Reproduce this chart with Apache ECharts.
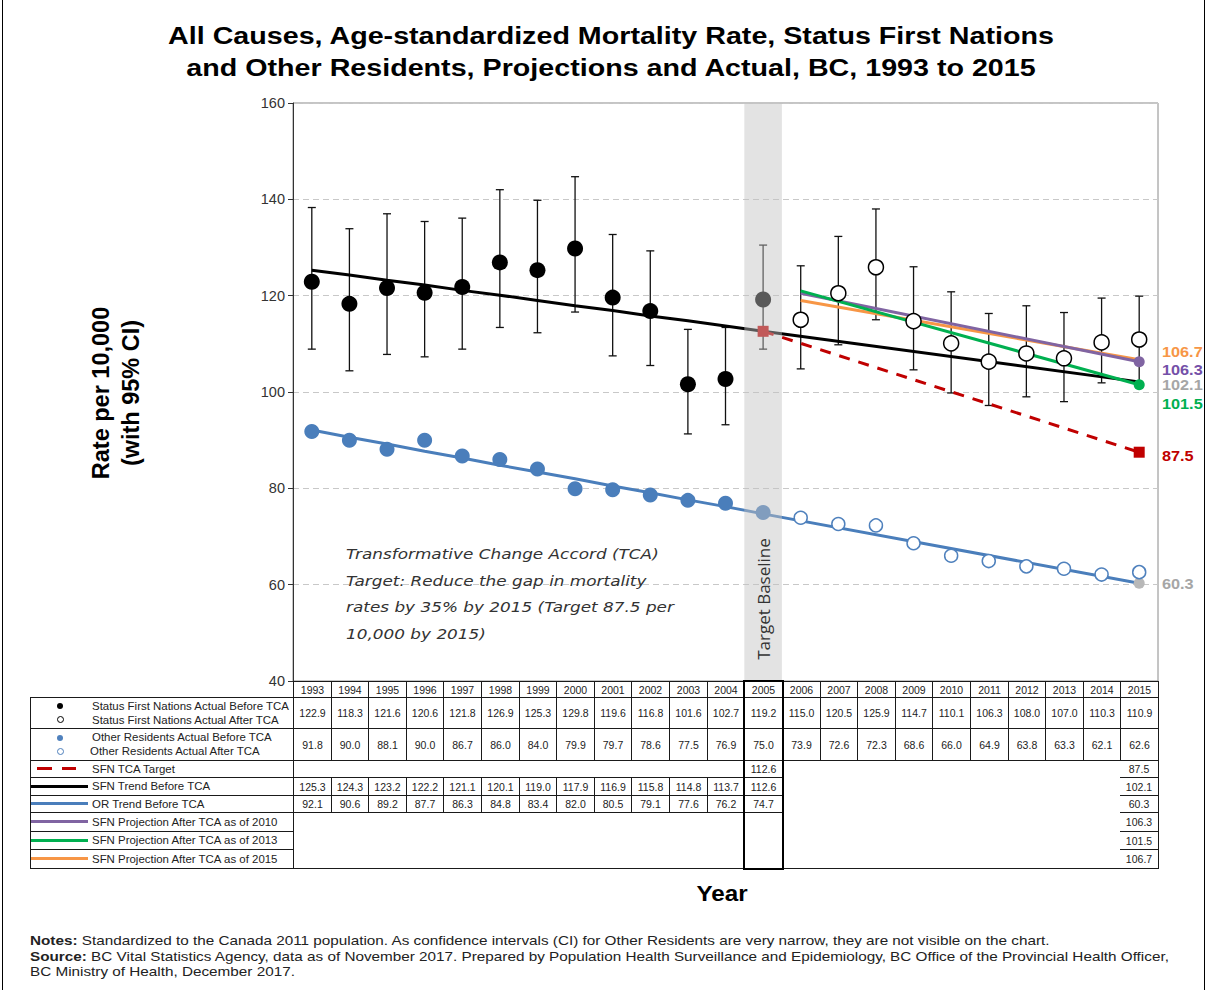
<!DOCTYPE html>
<html>
<head>
<meta charset="utf-8">
<script src="https://cdn.jsdelivr.net/npm/echarts@6/dist/echarts.min.js"></script>
<style>
html,body{margin:0;padding:0;background:#fff;}
#wrap{position:relative;width:1207px;height:990px;overflow:hidden;font-family:"Liberation Sans",Arial,sans-serif;}
#chart{position:absolute;left:0;top:0;width:1207px;height:990px;}
#overlay{position:absolute;left:0;top:0;width:1207px;height:990px;pointer-events:none;}
.bx{position:absolute;box-sizing:border-box;}
.txt{position:absolute;white-space:nowrap;font-size:11px;color:#222;line-height:12px;transform:scaleX(1.04);transform-origin:0 50%;}
.note{position:absolute;left:30px;white-space:nowrap;font-size:13px;color:#222;line-height:15px;transform:scaleX(1.175);transform-origin:0 50%;}
</style>
</head>
<body>
<div id="wrap">
  <div id="chart"></div>
  <div id="overlay"></div>
</div>
<script>
// ---------------- DATA ----------------
const years = ['1993','1994','1995','1996','1997','1998','1999','2000','2001','2002','2003','2004','2005','2006','2007','2008','2009','2010','2011','2012','2013','2014','2015'];
const sfnActual = [122.9,118.3,121.6,120.6,121.8,126.9,125.3,129.8,119.6,116.8,101.6,102.7,119.2,115.0,120.5,125.9,114.7,110.1,106.3,108.0,107.0,110.3,110.9];
const sfnCiLow  = [108.9,104.4,107.8,107.3,108.9,113.4,112.3,116.6,107.5,105.5,91.3,93.2,108.9,104.8,109.8,115.0,104.6,99.8,97.2,99.0,98.0,101.9,101.8];
const sfnCiHigh = [138.3,133.9,137.0,135.4,136.1,142.0,139.8,144.7,132.7,129.3,113.0,113.4,130.5,126.2,132.3,138.0,126.0,120.8,116.3,117.9,116.5,119.5,119.9];
const orActual  = [91.8,90.0,88.1,90.0,86.7,86.0,84.0,79.9,79.7,78.6,77.5,76.9,75.0,73.9,72.6,72.3,68.6,66.0,64.9,63.8,63.3,62.1,62.6];
const sfnTrend  = [125.3,124.3,123.2,122.2,121.1,120.1,119.0,117.9,116.9,115.8,114.8,113.7,112.6]; // 1993-2005
const orTrend   = [92.1,90.6,89.2,87.7,86.3,84.8,83.4,82.0,80.5,79.1,77.6,76.2,74.7];           // 1993-2005
const sfnTrend2015 = 102.1;
const orTrend2015 = 60.3;
const tcaTarget = [112.6, 87.5];   // 2005, 2015
const proj2010 = [120.5, 106.3];   // 2006, 2015
const proj2013 = [121.0, 101.5];
const proj2015 = [119.0, 106.7];
const yTicks = [40, 60, 80, 100, 120, 140, 160];
const baselineYear = '2005';
const firstAfterYear = '2006';
const lastYear = '2015';

// ---------------- SETUP ----------------
const FONT = '"Liberation Sans", Arial, sans-serif';
const N = years.length;
const iBase = years.indexOf(baselineYear);
const iAfter = years.indexOf(firstAfterYear);
const iLast = years.indexOf(lastYear);
const GRID = {left: 293, top: 103, width: 865, height: 578};

function pairs(arr, cond) {
  const out = [];
  arr.forEach((v, i) => { if (v != null && cond(i)) out.push([i, v]); });
  return out;
}
function endpointLine(startIdx, startVal, endVal, endSymbol, size, startSymbol) {
  return years.map((y, i) => {
    if (i === startIdx) return {value: startVal, symbol: startSymbol || 'none', symbolSize: size};
    if (i === iLast) return {value: endVal, symbol: endSymbol, symbolSize: size};
    return null;
  });
}
function trendLine(trend, endVal, endSymbol) {
  return years.map((y, i) => {
    if (i < trend.length) return {value: trend[i], symbol: 'none'};
    if (i === iLast) return {value: endVal, symbol: endSymbol, symbolSize: 11};
    return null;
  });
}

const chart = echarts.init(document.getElementById('chart'), null, {renderer: 'svg'});

const option = {
  animation: false,
  backgroundColor: '#ffffff',
  grid: {left: GRID.left, top: GRID.top, width: GRID.width, height: GRID.height, show: true, borderColor: '#8a8a8a', borderWidth: 1, containLabel: false},
  xAxis: {
    type: 'category', data: years, boundaryGap: true,
    axisLabel: {show: false}, axisTick: {show: false},
    axisLine: {show: true, lineStyle: {color: '#808080'}},
    splitLine: {show: false}
  },
  yAxis: {
    type: 'value', min: yTicks[0], max: yTicks[yTicks.length - 1], interval: yTicks[1] - yTicks[0],
    axisLine: {show: true, lineStyle: {color: '#333', width: 1}},
    axisTick: {show: true, length: 5, lineStyle: {color: '#333'}},
    axisLabel: {fontFamily: FONT, fontSize: 14.5, color: '#333', margin: 8},
    splitLine: {show: true, lineStyle: {color: '#c8c8c8', type: [6, 4], width: 1}}
  },
  series: [
    // error bars (SFN 95% CI)
    {
      type: 'custom', z: 2, silent: true,
      data: years.map((y, i) => [i, sfnCiLow[i], sfnCiHigh[i]]),
      encode: {x: 0, y: [1, 2]},
      renderItem: function (params, api) {
        const x = api.value(0);
        const lo = api.coord([x, api.value(1)]);
        const hi = api.coord([x, api.value(2)]);
        const cw = 4;
        const st = {stroke: '#111', lineWidth: 1.3};
        return {type: 'group', children: [
          {type: 'line', shape: {x1: lo[0], y1: lo[1], x2: hi[0], y2: hi[1]}, style: st},
          {type: 'line', shape: {x1: lo[0] - cw, y1: lo[1], x2: lo[0] + cw, y2: lo[1]}, style: st},
          {type: 'line', shape: {x1: hi[0] - cw, y1: hi[1], x2: hi[0] + cw, y2: hi[1]}, style: st}
        ]};
      }
    },
    // SFN trend before TCA (extended to 2015)
    {type: 'line', z: 3, data: trendLine(sfnTrend, sfnTrend2015, 'none'), connectNulls: true, showAllSymbol: true,
     lineStyle: {color: '#000', width: 3}, itemStyle: {color: '#000'}},
    // OR trend before TCA (extended to 2015)
    {type: 'line', z: 3, data: trendLine(orTrend, orTrend2015, 'circle'), connectNulls: true, showAllSymbol: true,
     lineStyle: {color: '#4a7ebb', width: 3}, itemStyle: {color: '#b8b8b8'}},
    // SFN TCA target
    {type: 'line', z: 3, data: endpointLine(iBase, tcaTarget[0], tcaTarget[1], 'rect', 11, 'rect'), connectNulls: true, showAllSymbol: true,
     lineStyle: {color: '#c00000', width: 3, type: [11, 9]}, itemStyle: {color: '#c00000'}},
    // SFN projection after TCA as of 2015 (orange)
    {type: 'line', z: 3, data: endpointLine(iAfter, proj2015[0], proj2015[1], 'none', 10), connectNulls: true, showAllSymbol: true,
     lineStyle: {color: '#f79646', width: 3}, itemStyle: {color: '#f79646'}},
    // SFN projection after TCA as of 2010 (purple)
    {type: 'line', z: 3, data: endpointLine(iAfter, proj2010[0], proj2010[1], 'circle', 11), connectNulls: true, showAllSymbol: true,
     lineStyle: {color: '#8064a2', width: 3}, itemStyle: {color: '#8064a2'}},
    // SFN projection after TCA as of 2013 (green)
    {type: 'line', z: 3, data: endpointLine(iAfter, proj2013[0], proj2013[1], 'circle', 11), connectNulls: true, showAllSymbol: true,
     lineStyle: {color: '#00b050', width: 3}, itemStyle: {color: '#00b050'}},
    // SFN actual before TCA (incl. baseline)
    {type: 'scatter', z: 4, symbolSize: 16, data: pairs(sfnActual, i => i <= iBase), itemStyle: {color: '#000', opacity: 1}},
    // SFN actual after TCA
    {type: 'scatter', z: 4, symbolSize: 15, data: pairs(sfnActual, i => i > iBase), itemStyle: {color: '#fff', borderColor: '#000', borderWidth: 1.5, opacity: 1}},
    // OR actual before TCA (incl. baseline)
    {type: 'scatter', z: 4, symbolSize: 15, data: pairs(orActual, i => i <= iBase), itemStyle: {color: '#4a7ebb', opacity: 1}},
    // OR actual after TCA
    {type: 'scatter', z: 4, symbolSize: 13, data: pairs(orActual, i => i > iBase), itemStyle: {color: '#fff', borderColor: '#4f81bd', borderWidth: 1.5, opacity: 1}},
    // Target baseline band (semi-transparent overlay on 2005)
    {
      type: 'custom', z: 6, silent: true,
      data: [[iBase, yTicks[0], yTicks[yTicks.length - 1]]],
      encode: {x: 0, y: [1, 2]},
      renderItem: function (params, api) {
        const x = api.value(0);
        const lo = api.coord([x, api.value(1)]);
        const hi = api.coord([x, api.value(2)]);
        const w = api.size([1, 0])[0];
        return {type: 'rect', shape: {x: lo[0] - w / 2, y: hi[1], width: w, height: lo[1] - hi[1]},
                style: {fill: 'rgba(194,194,194,0.46)'}};
      }
    }
  ]
};
chart.setOption(option);

// ---------------- ANNOTATIONS (graphic) ----------------
function px(cat, val) { return chart.convertToPixel({xAxisIndex: 0, yAxisIndex: 0}, [cat, val]); }
const gridRight = GRID.left + GRID.width;
const endLabels = [
  {v: proj2015[1], c: '#f79646', dy: -8},
  {v: proj2010[1], c: '#7450a8', dy: 7.5},
  {v: sfnTrend2015, c: '#a6a6a6', dy: 3},
  {v: proj2013[1], c: '#00b050', dy: 18.5},
  {v: tcaTarget[1], c: '#c00000', dy: 3.5},
  {v: orTrend2015, c: '#a6a6a6', dy: 0}
];
const graphics = endLabels.map(l => {
  const p = px(lastYear, l.v);
  return {type: 'text', z: 100, x: gridRight + 4, y: p[1] + l.dy, scaleX: 1.05,
    style: {text: l.v.toFixed(1), fill: l.c, font: 'bold 15.5px ' + FONT, textAlign: 'left', textVerticalAlign: 'middle'}};
});
// title
graphics.push({type: 'text', z: 100, x: 611, y: 52, scaleX: 1.17,
  style: {text: 'All Causes, Age-standardized Mortality Rate, Status First Nations\nand Other Residents, Projections and Actual, BC, 1993 to 2015',
    fill: '#000', font: 'bold 24.5px ' + FONT, lineHeight: 32, textAlign: 'center', textVerticalAlign: 'middle'}});
const bandX = px(baselineYear, 60)[0];
graphics.push({type: 'text', z: 100, x: bandX, y: 599, rotation: Math.PI / 2,
  style: {text: 'Target Baseline', fill: '#333', font: '17px "Open Sans", sans-serif', textAlign: 'center', textVerticalAlign: 'middle'}});
graphics.push({type: 'text', z: 100, x: 346, y: 541, scaleX: 1.14,
  style: {text: 'Transformative Change Accord (TCA)\nTarget: Reduce the gap in mortality\nrates by 35% by 2015 (Target 87.5 per\n10,000 by 2015)',
    fill: '#333', font: 'italic 14.8px "DejaVu Sans", Verdana, sans-serif', lineHeight: 26.5, textAlign: 'left', textVerticalAlign: 'top'}});
graphics.push({type: 'text', z: 100, x: 116, y: 393, rotation: Math.PI / 2,
  style: {text: 'Rate per 10,000\n(with 95% CI)', fill: '#000', font: 'bold 23.5px ' + FONT, lineHeight: 30, textAlign: 'center', textVerticalAlign: 'middle'}});
graphics.push({type: 'text', z: 100, x: 722, y: 893, scaleX: 1.1,
  style: {text: 'Year', fill: '#000', font: 'bold 22px ' + FONT, textAlign: 'center', textVerticalAlign: 'middle'}});
chart.setOption({graphic: graphics});

// ---------------- DATA TABLE (HTML overlay) ----------------
const ov = document.getElementById('overlay');
function el(cls, css, html) {
  const d = document.createElement('div');
  d.className = cls;
  Object.assign(d.style, css);
  if (html != null) d.innerHTML = html;
  ov.appendChild(d);
  return d;
}
const colW = GRID.width / N;
function colLeft(i) { return px(years[i], 60)[0] - colW / 2; }
const R = [681, 697, 728, 760, 777, 795, 812, 831, 849, 868];
const LEG_L = 30;
const B = '1px solid #1a1a1a';
function cell(x1, y1, x2, y2, text, extra) {
  const l = Math.round(x1), t = Math.round(y1);
  const w = Math.round(x2) - l + 1, h = Math.round(y2) - t + 1;
  const css = Object.assign({left: l + 'px', top: t + 'px', width: w + 'px', height: h + 'px', border: B,
    display: 'flex', alignItems: 'center', justifyContent: 'center', fontSize: '10.5px', color: '#222', whiteSpace: 'nowrap'}, extra || {});
  return el('bx', css, text == null ? '' : text);
}
const tableRight = colLeft(N - 1) + colW;
// header row with years
years.forEach((y, i) => cell(colLeft(i), R[0], colLeft(i) + colW, R[1], y));
// rows 1,2: actual values
sfnActual.forEach((v, i) => cell(colLeft(i), R[1], colLeft(i) + colW, R[2], v.toFixed(1)));
orActual.forEach((v, i) => cell(colLeft(i), R[2], colLeft(i) + colW, R[3], v.toFixed(1)));
// row 3: target
cell(colLeft(0), R[3], colLeft(iBase), R[4]);
cell(colLeft(iBase), R[3], colLeft(iBase) + colW, R[4], tcaTarget[0].toFixed(1));
// block after baseline, rows 3-8
cell(colLeft(iAfter), R[3], tableRight, R[9]);
// rows 4,5: trends
sfnTrend.forEach((v, i) => cell(colLeft(i), R[4], colLeft(i) + colW, R[5], v.toFixed(1)));
orTrend.forEach((v, i) => cell(colLeft(i), R[5], colLeft(i) + colW, R[6], v.toFixed(1)));
// rows 6-8 empty blocks
cell(colLeft(0), R[6], colLeft(iBase), R[9]);
cell(colLeft(iBase), R[6], colLeft(iBase) + colW, R[9]);
// 2015 column values rows 3-8
const col2015 = [tcaTarget[1], sfnTrend2015, orTrend2015, proj2010[1], proj2013[1], proj2015[1]];
col2015.forEach((v, k) => {
  const l = colLeft(iLast);
  el('bx', {left: Math.round(l) + 'px', top: R[3 + k] + 'px', width: (Math.round(tableRight) - Math.round(l)) + 'px', height: (R[4 + k] - R[3 + k]) + 'px',
    borderTop: k === 0 ? 'none' : B, display: 'flex', alignItems: 'center', justifyContent: 'center', fontSize: '10.5px', color: '#222'}, v.toFixed(1));
});
// thick 2005 box
el('bx', {left: (Math.round(colLeft(iBase)) - 1) + 'px', top: (R[0] - 1) + 'px', width: (Math.round(colW) + 3) + 'px', height: (R[9] - R[0] + 3) + 'px', border: '2px solid #000'});

// legend column
for (let r = 1; r <= 8; r++) cell(LEG_L, R[r], GRID.left, R[r + 1]);
function dot(cx, cy, d, fill, border) {
  el('bx', {left: (cx - d / 2) + 'px', top: (cy - d / 2) + 'px', width: d + 'px', height: d + 'px', borderRadius: '50%', background: fill, border: border || 'none'});
}
function legText(x, cy, t) { el('txt', {left: x + 'px', top: (cy - 6) + 'px'}, t); }
function legLine(cy, color) { el('bx', {left: (LEG_L + 1) + 'px', top: (cy - 1.5) + 'px', width: '57px', height: '3px', background: color}); }
dot(60, 706, 6, '#000');
dot(60, 719.5, 7, '#fff', '1.3px solid #000');
legText(92, 706, 'Status First Nations Actual Before TCA');
legText(92, 719.5, 'Status First Nations Actual After TCA');
dot(60, 737.5, 6, '#4f81bd');
dot(60, 751, 7, '#fff', '1.2px solid #4f81bd');
legText(92, 737, 'Other Residents Actual Before TCA');
legText(90, 751, 'Other Residents Actual After TCA');
el('bx', {left: '37px', top: '767px', width: '15px', height: '3px', background: '#c00000'});
el('bx', {left: '62px', top: '767px', width: '14px', height: '3px', background: '#c00000'});
legText(92, 768.5, 'SFN TCA Target');
legLine(786, '#000'); legText(92, 786, 'SFN Trend Before TCA');
legLine(803.5, '#4a7ebb'); legText(92, 803.5, 'OR Trend Before TCA');
legLine(821.5, '#8064a2'); legText(92, 821.5, 'SFN Projection After TCA as of 2010');
legLine(840, '#00b050'); legText(92, 840, 'SFN Projection After TCA as of 2013');
legLine(858.5, '#f79646'); legText(92, 858.5, 'SFN Projection After TCA as of 2015');

// notes
el('note', {top: '933px'}, '<b>Notes:</b> Standardized to the Canada 2011 population. As confidence intervals (CI) for Other Residents are very narrow, they are not visible on the chart.');
el('note', {top: '948.5px'}, '<b>Source:</b> BC Vital Statistics Agency, data as of November 2017. Prepared by Population Health Surveillance and Epidemiology, BC Office of the Provincial Health Officer,');
el('note', {top: '964px'}, 'BC Ministry of Health, December 2017.');
// outer frame lines
el('bx', {left: '2px', top: '0px', width: '1px', height: '990px', background: '#000'});
el('bx', {left: '1204px', top: '0px', width: '1px', height: '990px', background: '#000'});
</script>
</body>
</html>
